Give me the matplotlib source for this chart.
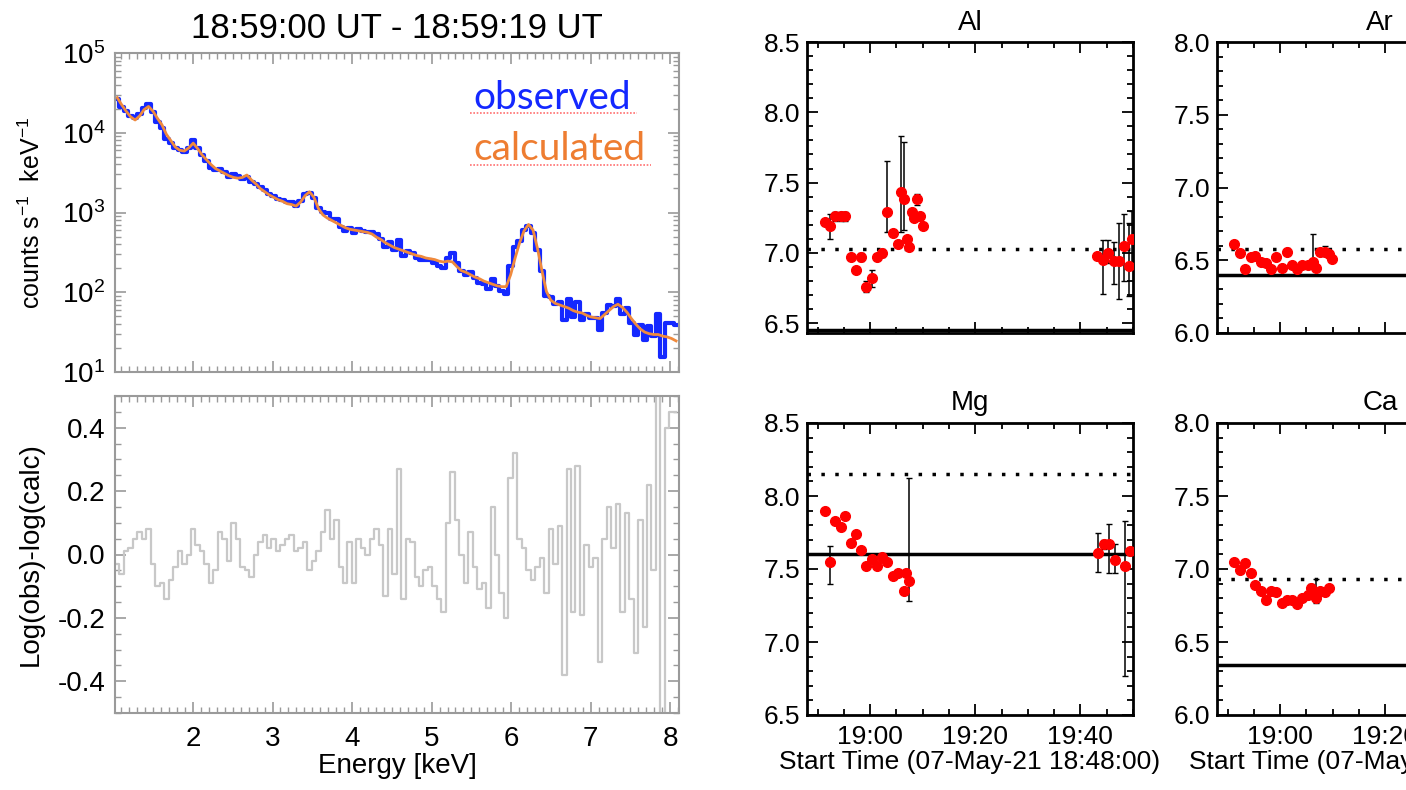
import numpy as np
import matplotlib.pyplot as plt
from matplotlib.ticker import MultipleLocator, LogLocator, NullFormatter, FuncFormatter

plt.rcParams['font.family'] = ['Liberation Sans', 'DejaVu Sans']
plt.rcParams['mathtext.fontset'] = 'custom'
plt.rcParams['mathtext.rm'] = 'Liberation Sans'
plt.rcParams['mathtext.it'] = 'Liberation Sans:italic'
plt.rcParams['mathtext.bf'] = 'Liberation Sans:bold'

# ---- spectrum (18:59:00 - 18:59:19 UT) ----
e_start = 1.02      # keV, first bin edge
e_width = 0.0562    # keV, bin width

# log10 of calculated spectrum, counts s-1 keV-1, one value per bin
calc_log10 = [
    4.44, 4.35, 4.27, 4.20, 4.16, 4.21, 4.29, 4.33, 4.27, 4.18,
    4.10, 3.98, 3.90, 3.82, 3.78, 3.77, 3.81, 3.87, 3.80, 3.72,
    3.66, 3.60, 3.55, 3.52, 3.49, 3.46, 3.44, 3.43, 3.44, 3.47,
    3.41, 3.36, 3.30, 3.26, 3.22, 3.19, 3.16, 3.14, 3.11, 3.10,
    3.08, 3.13, 3.21, 3.26, 3.19, 3.05, 2.97, 2.93, 2.90, 2.87,
    2.84, 2.81, 2.79, 2.78, 2.77, 2.76, 2.75, 2.73, 2.69, 2.66,
    2.62, 2.59, 2.56, 2.54, 2.52, 2.50, 2.48, 2.46, 2.45, 2.43,
    2.42, 2.41, 2.39, 2.38, 2.39, 2.38, 2.32, 2.27, 2.25, 2.22,
    2.19, 2.17, 2.14, 2.12, 2.10, 2.08, 2.07, 2.07, 2.22, 2.43,
    2.62, 2.77, 2.85, 2.78, 2.55, 2.27, 2.01, 1.90, 1.86, 1.84,
    1.82, 1.80, 1.77, 1.75, 1.74, 1.71, 1.69, 1.68, 1.67, 1.72,
    1.77, 1.82, 1.85, 1.81, 1.75, 1.67, 1.60, 1.54, 1.50, 1.48,
    1.47, 1.47, 1.45, 1.44, 1.42, 1.39,
]

# ln(obs) - ln(calc) (IDL alog), one value per bin
resid = [
    -0.03, -0.06, 0.01, 0.02, 0.05, 0.07, 0.05, 0.08, -0.03, -0.10,
    -0.09, -0.14, -0.08, -0.04, 0.01, -0.03, 0.00, 0.08, 0.03, 0.01,
    -0.03, -0.09, -0.05, 0.07, 0.05, -0.02, 0.10, 0.05, -0.04, -0.05,
    -0.07, 0.00, 0.04, 0.06, 0.02, 0.05, 0.01, 0.03, 0.05, 0.06,
    0.01, 0.02, 0.04, -0.05, -0.02, 0.01, 0.07, 0.14, 0.05, 0.11,
    -0.04, -0.09, 0.04, -0.09, 0.05, 0.02, 0.00, 0.05, 0.08, 0.03,
    -0.13, 0.08, -0.06, 0.27, -0.14, 0.05, 0.04, -0.07, -0.10, -0.05,
    -0.04, -0.10, -0.14, -0.18, 0.10, 0.26, 0.11, 0.00, -0.09, 0.07,
    -0.04, -0.11, -0.09, -0.17, 0.15, 0.00, -0.12, -0.20, 0.24, 0.32,
    0.05, 0.02, -0.05, -0.08, -0.04, -0.01, -0.12, 0.08, -0.03, 0.09,
    -0.38, 0.27, -0.18, 0.28, -0.19, 0.03, -0.04, -0.01, -0.34, 0.05,
    0.15, 0.02, 0.16, -0.18, 0.13, -0.14, -0.31, 0.11, -0.23, 0.22,
    -0.05, 0.60, -0.60, 0.40, 0.45, 0.45,
]

# ---- abundances vs time (minutes after 18:48:00) ----
al_t = [3.5, 4.4, 5.4, 6.4, 7.3, 8.3, 9.4, 10.3, 11.3, 12.3, 13.3, 14.3,
        15.3, 16.4, 17.4, 17.9, 18.5, 19.1, 19.4, 19.9, 20.4, 21.0, 21.5, 22.0,
        55.2, 56.3, 57.3, 58.4, 59.4, 60.3, 61.3, 61.9]
al_v = [7.22, 7.19, 7.26, 7.26, 7.26, 6.97, 6.88, 6.97, 6.76, 6.82, 6.97, 7.00,
        7.29, 7.14, 7.06, 7.43, 7.38, 7.10, 7.04, 7.29, 7.25, 7.38, 7.26, 7.19,
        6.98, 6.95, 7.00, 6.94, 6.94, 7.05, 6.91, 7.10]
al_lo = [7.20, 7.10, 7.23, 7.23, 7.23, 6.95, 6.86, 6.94, 6.72, 6.76, 6.95, 6.97,
         7.15, 7.12, 7.04, 7.15, 7.16, 7.08, 7.02, 7.27, 7.23, 7.34, 7.24, 7.17,
         6.96, 6.71, 6.93, 6.78, 6.67, 6.80, 6.69, 6.90]
al_hi = [7.24, 7.28, 7.29, 7.29, 7.29, 6.99, 6.90, 7.00, 6.80, 6.88, 6.99, 7.03,
         7.65, 7.16, 7.08, 7.83, 7.79, 7.12, 7.06, 7.31, 7.27, 7.42, 7.28, 7.21,
         7.00, 7.09, 7.09, 7.08, 7.21, 7.28, 7.21, 7.30]

ar_t = [3.3, 4.4, 5.3, 6.4, 7.3, 8.4, 9.4, 10.3, 11.3, 12.3, 13.3, 14.3,
        15.2, 16.2, 17.3, 18.3, 18.9, 19.6, 20.6, 21.3, 21.8]
ar_v = [6.61, 6.55, 6.44, 6.52, 6.53, 6.49, 6.48, 6.44, 6.52, 6.45, 6.56, 6.47,
        6.44, 6.47, 6.47, 6.49, 6.45, 6.56, 6.56, 6.54, 6.51]
ar_lo = [6.59, 6.53, 6.42, 6.50, 6.51, 6.47, 6.46, 6.42, 6.50, 6.43, 6.54, 6.45,
         6.42, 6.45, 6.45, 6.46, 6.43, 6.54, 6.53, 6.52, 6.49]
ar_hi = [6.63, 6.57, 6.46, 6.54, 6.55, 6.51, 6.50, 6.46, 6.54, 6.47, 6.58, 6.49,
         6.46, 6.49, 6.49, 6.68, 6.47, 6.58, 6.60, 6.56, 6.53]

mg_t = [3.5, 4.4, 5.4, 6.4, 7.3, 8.4, 9.4, 10.3, 11.3, 12.3, 13.3, 14.3,
        15.3, 16.4, 17.4, 18.5, 18.9, 19.4, 55.4, 56.5, 57.5, 58.6, 60.4, 61.5]
mg_v = [7.90, 7.55, 7.83, 7.79, 7.86, 7.68, 7.74, 7.63, 7.52, 7.57, 7.52, 7.58,
        7.55, 7.45, 7.47, 7.35, 7.47, 7.42, 7.61, 7.67, 7.67, 7.56, 7.52, 7.62]
mg_lo = [7.88, 7.40, 7.81, 7.77, 7.84, 7.66, 7.72, 7.61, 7.50, 7.55, 7.50, 7.56,
         7.53, 7.43, 7.45, 7.33, 7.45, 7.28, 7.48, 7.64, 7.47, 7.47, 6.77, 7.60]
mg_hi = [7.92, 7.66, 7.85, 7.81, 7.88, 7.70, 7.76, 7.65, 7.54, 7.59, 7.54, 7.60,
         7.57, 7.47, 7.49, 7.37, 7.49, 8.12, 7.75, 7.70, 7.81, 7.67, 7.83, 7.64]

ca_t = [3.3, 4.4, 5.3, 6.4, 7.3, 8.4, 9.4, 10.3, 11.3, 12.3, 13.3, 14.3,
        15.2, 16.2, 17.3, 17.8, 18.3, 18.9, 19.6, 20.6, 21.3]
ca_v = [7.05, 6.99, 7.04, 6.97, 6.89, 6.85, 6.79, 6.85, 6.84, 6.77, 6.79, 6.79,
        6.76, 6.80, 6.82, 6.87, 6.84, 6.80, 6.85, 6.84, 6.87]
ca_lo = [7.03, 6.97, 7.02, 6.95, 6.87, 6.83, 6.77, 6.83, 6.82, 6.75, 6.77, 6.77,
         6.74, 6.78, 6.80, 6.84, 6.82, 6.77, 6.83, 6.82, 6.85]
ca_hi = [7.07, 7.01, 7.06, 6.99, 6.91, 6.87, 6.81, 6.87, 6.86, 6.79, 6.81, 6.81,
         6.78, 6.82, 6.84, 6.90, 6.86, 6.93, 6.87, 6.86, 6.89]

# photospheric (solid) and coronal (dotted) reference levels
ref_levels = {'Al': (6.45, 7.03), 'Ar': (6.40, 6.58),
              'Mg': (7.60, 8.15), 'Ca': (6.34, 6.93)}

W, H = 1406, 790


def box(x0, y0, x1, y1):
    return [x0 / W, 1 - y1 / H, (x1 - x0) / W, (y1 - y0) / H]


fig = plt.figure(figsize=(W / 100, H / 100), dpi=100)

centres = e_start + e_width * (np.arange(len(calc_log10)) + 0.5)
calc = 10 ** np.array(calc_log10)
obs = calc * np.exp(np.array(resid))

grey = '#9a9a9a'

ax1 = fig.add_axes(box(115, 53, 679, 372))
ax1.plot(centres, obs, drawstyle='steps-mid', color='#1428ff', lw=3)
ax1.plot(centres, calc, color='#f08a3c', lw=2)
ax1.set_yscale('log')
ax1.set_ylim(10, 1e5)
ax1.set_xlim(1.02, 8.11)
ax1.yaxis.set_major_locator(LogLocator(base=10, numticks=10))
ax1.yaxis.set_minor_locator(LogLocator(base=10, subs=np.arange(2, 10), numticks=10))
ax1.yaxis.set_minor_formatter(NullFormatter())
ax1.set_title('18:59:00 UT - 18:59:19 UT', fontsize=25, pad=11)
ax1.set_ylabel('counts s$^{-1}$  keV$^{-1}$', fontsize=18, labelpad=12)
ax1.text(0.635, 0.86, 'observed', transform=ax1.transAxes, color='#1428ff',
         fontsize=28, family='Lato', va='center')
ax1.text(0.635, 0.70, 'calculated', transform=ax1.transAxes, color='#ee7d31',
         fontsize=28, family='Lato', va='center')
ax1.plot([0.630, 0.925], [0.812, 0.812], transform=ax1.transAxes,
         color='#ff7070', lw=1.2, ls=(0, (1, 1)))
ax1.plot([0.630, 0.950], [0.649, 0.649], transform=ax1.transAxes,
         color='#ff7070', lw=1.2, ls=(0, (1, 1)))

ax2 = fig.add_axes(box(115, 396, 679, 713))
ax2.plot(centres, resid, drawstyle='steps-mid', color='#c8c8c8', lw=1.6)
ax2.set_xlim(1.02, 8.11)
ax2.set_ylim(-0.5, 0.5)
ax2.yaxis.set_major_locator(MultipleLocator(0.2))
ax2.yaxis.set_minor_locator(MultipleLocator(0.05))
ax2.yaxis.set_major_formatter(FuncFormatter(lambda v, p: f'{v:.1f}' if abs(v) < 0.45 else ''))
ax2.set_xlabel('Energy [keV]', fontsize=20, labelpad=1)
ax2.set_ylabel('Log(obs)-log(calc)', fontsize=20, labelpad=10)

for ax in (ax1, ax2):
    ax.xaxis.set_major_locator(MultipleLocator(1))
    ax.xaxis.set_minor_locator(MultipleLocator(0.1))
    ax.tick_params(which='both', direction='in', top=True, right=True,
                   color=grey, labelcolor='k', labelsize=20, pad=7)
    ax.tick_params(which='major', length=8, width=1.2)
    ax.tick_params(which='minor', length=4, width=1)
    for s in ax.spines.values():
        s.set_color(grey)
        s.set_linewidth(1.5)
ax1.tick_params(axis='x', labelbottom=False)
ax2.tick_params(axis='x', pad=9)


def time_label(m, pos):
    total = 18 * 60 + 48 + int(round(m))
    return f'{total // 60}:{total % 60:02d}'


def abund_panel(rect, name, t, v, lo, hi, ylim, xlabels):
    ax = fig.add_axes(rect)
    phot, cor = ref_levels[name]
    ax.axhline(phot, color='k', lw=2.5, zorder=1)
    ax.axhline(cor, color='k', lw=2.5, ls=(0, (1, 3)), zorder=1)
    v = np.array(v)
    ax.errorbar(t, v, yerr=[v - np.array(lo), np.array(hi) - v], fmt='none',
                ecolor='k', elinewidth=1.1, capsize=2, zorder=2)
    ax.plot(t, v, 'o', color='red', ms=7, zorder=3)
    ax.set_xlim(0, 62)
    ax.set_ylim(*ylim)
    ax.set_title(name, fontsize=20, pad=9)
    ax.xaxis.set_major_locator(MultipleLocator(20, offset=12))
    ax.xaxis.set_minor_locator(MultipleLocator(5, offset=2))
    ax.xaxis.set_major_formatter(FuncFormatter(time_label))
    ax.yaxis.set_major_locator(MultipleLocator(0.5))
    ax.yaxis.set_minor_locator(MultipleLocator(0.1))
    ax.yaxis.set_major_formatter(FuncFormatter(lambda y, p: f'{y:.1f}'))
    ax.tick_params(which='both', direction='in', top=True, right=True,
                   labelsize=19, width=1.3)
    ax.tick_params(which='major', length=8)
    ax.tick_params(which='minor', length=4)
    ax.tick_params(axis='y', pad=5)
    ax.tick_params(axis='x', pad=7, labelbottom=xlabels)
    for s in ax.spines.values():
        s.set_linewidth(2)
    if xlabels:
        ax.set_xlabel('Start Time (07-May-21 18:48:00)', fontsize=19, labelpad=1)
    return ax


abund_panel(box(807, 42, 1133, 333), 'Al', al_t, al_v, al_lo, al_hi, (6.43, 8.5), False)
abund_panel(box(1217, 42, 1543, 333), 'Ar', ar_t, ar_v, ar_lo, ar_hi, (6.0, 8.0), False)
abund_panel(box(807, 423, 1133, 715), 'Mg', mg_t, mg_v, mg_lo, mg_hi, (6.5, 8.5), True)
abund_panel(box(1217, 423, 1543, 715), 'Ca', ca_t, ca_v, ca_lo, ca_hi, (6.0, 8.0), True)

fig.savefig('out.png', dpi=100)
